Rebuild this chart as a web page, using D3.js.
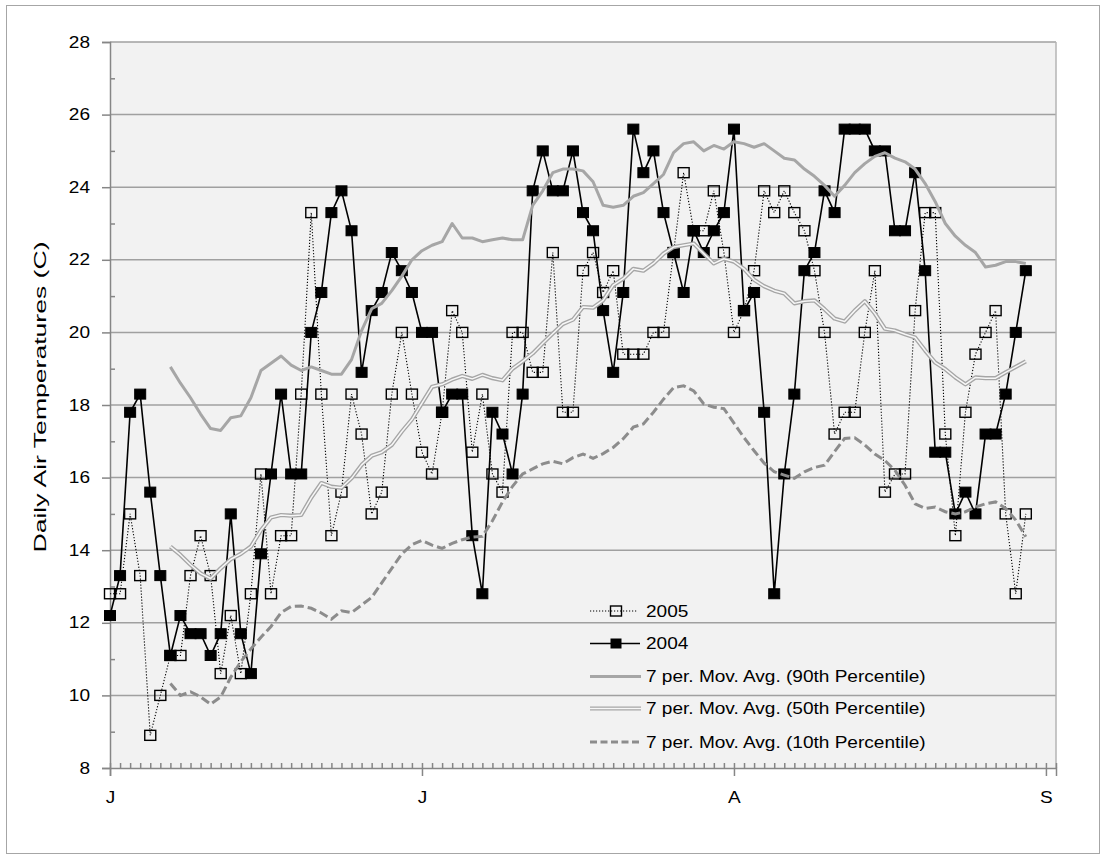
<!DOCTYPE html>
<html>
<head>
<meta charset="utf-8">
<script src="https://cdn.jsdelivr.net/npm/d3@7"></script>
<style>
  html, body { margin: 0; padding: 0; background: #ffffff; }
  svg { display: block; font-family: "Liberation Sans", Arial, Helvetica, sans-serif; }
</style>
</head>
<body>
<svg id="chart" width="1106" height="860"></svg>
<script>
// Day index 0 = 1 June; one value per day.
const temps2005 = [
  12.8, 12.8, 15.0, 13.3, 8.9, 10.0, 11.1, 11.1, 13.3, 14.4,
  13.3, 10.6, 12.2, 10.6, 12.8, 16.1, 12.8, 14.4, 14.4, 18.3,
  23.3, 18.3, 14.4, 15.6, 18.3, 17.2, 15.0, 15.6, 18.3, 20.0,
  18.3, 16.7, 16.1, 17.8, 20.6, 20.0, 16.7, 18.3, 16.1, 15.6,
  20.0, 20.0, 18.9, 18.9, 22.2, 17.8, 17.8, 21.7, 22.2, 21.1,
  21.7, 19.4, 19.4, 19.4, 20.0, 20.0, 22.2, 24.4, 22.8, 22.8,
  23.9, 22.2, 20.0, 20.6, 21.7, 23.9, 23.3, 23.9, 23.3, 22.8,
  21.7, 20.0, 17.2, 17.8, 17.8, 20.0, 21.7, 15.6, 16.1, 16.1,
  20.6, 23.3, 23.3, 17.2, 14.4, 17.8, 19.4, 20.0, 20.6, 15.0,
  12.8, 15.0
];

const temps2004 = [
  12.2, 13.3, 17.8, 18.3, 15.6, 13.3, 11.1, 12.2, 11.7, 11.7,
  11.1, 11.7, 15.0, 11.7, 10.6, 13.9, 16.1, 18.3, 16.1, 16.1,
  20.0, 21.1, 23.3, 23.9, 22.8, 18.9, 20.6, 21.1, 22.2, 21.7,
  21.1, 20.0, 20.0, 17.8, 18.3, 18.3, 14.4, 12.8, 17.8, 17.2,
  16.1, 18.3, 23.9, 25.0, 23.9, 23.9, 25.0, 23.3, 22.8, 20.6,
  18.9, 21.1, 25.6, 24.4, 25.0, 23.3, 22.2, 21.1, 22.8, 22.2,
  22.8, 23.3, 25.6, 20.6, 21.1, 17.8, 12.8, 16.1, 18.3, 21.7,
  22.2, 23.9, 23.3, 25.6, 25.6, 25.6, 25.0, 25.0, 22.8, 22.8,
  24.4, 21.7, 16.7, 16.7, 15.0, 15.6, 15.0, 17.2, 17.2, 18.3,
  20.0, 21.7
];

// 7-period moving averages; the first value belongs to day index 6.
const avgStart = 6;
const movAvg90 = [
  19.05, 18.6, 18.2, 17.75, 17.35, 17.3, 17.65, 17.7, 18.2, 18.95,
  19.15, 19.35, 19.1, 18.95, 19.05, 18.95, 18.85, 18.85, 19.25, 20.05,
  20.65, 20.8, 21.15, 21.55, 22.0, 22.25, 22.4, 22.5, 23.0, 22.6,
  22.6, 22.5, 22.55, 22.6, 22.55, 22.55, 23.5, 23.9, 24.4, 24.5,
  24.5, 24.45, 24.15, 23.5, 23.45, 23.5, 23.75, 23.85, 24.1, 24.35,
  24.95, 25.2, 25.25, 25.0, 25.15, 25.05, 25.25, 25.2, 25.1, 25.2,
  25.0, 24.8, 24.75, 24.5, 24.3, 24.05, 23.75, 24.05, 24.4, 24.65,
  24.85, 24.95, 24.8, 24.7, 24.5, 24.1, 23.6, 23.0, 22.65, 22.4,
  22.2, 21.8, 21.85, 21.95, 21.95, 21.9
];
const movAvg50 = [
  14.1, 13.87, 13.6, 13.36, 13.22, 13.5, 13.75, 13.9, 14.1, 14.55,
  14.9, 14.97, 14.95, 14.97, 15.45, 15.85, 15.75, 15.72, 15.98, 16.35,
  16.6, 16.7, 16.9, 17.27, 17.6, 18.05, 18.5, 18.57, 18.7, 18.8,
  18.72, 18.83, 18.74, 18.68, 19.0, 19.2, 19.42, 19.7, 19.97, 20.23,
  20.35, 20.7, 20.68, 20.88, 21.3, 21.48, 21.75, 21.7, 21.9, 22.17,
  22.35, 22.4, 22.45, 22.17, 21.9, 22.03, 21.95, 21.75, 21.45, 21.27,
  21.15, 21.07, 20.8, 20.86, 20.88, 20.64, 20.38, 20.3, 20.6, 20.86,
  20.52, 20.1, 20.05, 19.95, 19.86, 19.5, 19.17, 18.99, 18.76, 18.57,
  18.76, 18.74, 18.74, 18.9, 19.05, 19.2
];
const movAvg10 = [
  10.33, 10.0, 10.1, 9.96, 9.76, 9.96, 10.5, 10.93, 11.28, 11.6,
  11.9, 12.28, 12.45, 12.46, 12.4, 12.27, 12.1, 12.33, 12.28, 12.49,
  12.7, 13.1, 13.5, 13.9, 14.15, 14.27, 14.14, 14.05, 14.19, 14.29,
  14.36, 14.38, 14.81, 15.33, 15.76, 16.1, 16.24, 16.38, 16.45, 16.38,
  16.55, 16.65, 16.53, 16.66, 16.83, 17.07, 17.39, 17.48, 17.8, 18.16,
  18.48, 18.53, 18.39, 18.03, 17.94, 17.9, 17.5, 17.1, 16.74, 16.4,
  16.16, 16.07, 15.98, 16.16, 16.28, 16.34, 16.72, 17.08, 17.1, 16.9,
  16.65, 16.47, 16.2, 15.79, 15.28, 15.15, 15.19, 15.06, 15.0, 15.06,
  15.19, 15.28, 15.33, 15.15, 14.83, 14.37
];

// Category axis: labels every 31 days (2 Jun, 2 Jul, 2 Aug, 2 Sep).
const monthTickIndex = [0, 31, 62, 93];
const monthTickLabels = ["J", "J", "A", "S"];
const yTickValues = [8, 10, 12, 14, 16, 18, 20, 22, 24, 26, 28];
const yMinorValues = [9, 11, 13, 15, 17, 19, 21, 23, 25, 27];

const legendLabels = [
  "2005",
  "2004",
  "7 per. Mov. Avg. (90th Percentile)",
  "7 per. Mov. Avg. (50th Percentile)",
  "7 per. Mov. Avg. (10th Percentile)"
];

// ---- layout ----
const W = 1106, H = 860;
const plot = { left: 110, right: 1056, top: 42, bottom: 768 };
const SX = 1.19;          // glyphs are drawn a little wide
const FONT = 16;

const svg = d3.select("#chart");

const x = d3.scaleLinear().domain([0, 94]).range([plot.left, plot.right]);
const y = d3.scaleLinear().domain([8, 28]).range([plot.bottom, plot.top]);

// chart frame
svg.append("rect")
  .attr("x", 6.5).attr("y", 5.5).attr("width", W - 13).attr("height", H - 12)
  .attr("fill", "#ffffff").attr("stroke", "#a6a6a6").attr("stroke-width", 1);

// plot background
svg.append("rect")
  .attr("x", plot.left).attr("y", plot.top)
  .attr("width", plot.right - plot.left).attr("height", plot.bottom - plot.top)
  .attr("fill", "#f2f2f2");

// horizontal gridlines
svg.append("g").selectAll("line")
  .data(yTickValues.filter(v => v > 8))
  .join("line")
  .attr("x1", plot.left).attr("x2", plot.right)
  .attr("y1", d => y(d)).attr("y2", d => y(d))
  .attr("stroke", "#a0a0a0").attr("stroke-width", 1.5);

// right edge of plot area
svg.append("line")
  .attr("x1", plot.right).attr("x2", plot.right)
  .attr("y1", plot.top).attr("y2", plot.bottom)
  .attr("stroke", "#b4b4b4").attr("stroke-width", 1.5);

function styleAxis(g) {
  g.selectAll(".domain").attr("stroke", "#868686").attr("stroke-width", 1.5);
  g.selectAll(".tick line").attr("stroke", "#868686").attr("stroke-width", 1.5);
}

// y axis (minor ticks inside, major ticks outside)
svg.append("g")
  .attr("transform", `translate(${plot.left},0)`)
  .call(d3.axisLeft(y).tickValues(yMinorValues).tickSize(-5).tickFormat(""))
  .call(g => g.select(".domain").remove())
  .call(styleAxis);

const yAxisG = svg.append("g")
  .attr("transform", `translate(${plot.left},0)`)
  .call(d3.axisLeft(y).tickValues(yTickValues).tickSizeOuter(0).tickSize(8).tickPadding(10))
  .call(styleAxis);
yAxisG.selectAll(".tick text")
  .attr("font-family", "Liberation Sans, Arial, sans-serif")
  .attr("font-size", FONT)
  .attr("fill", "#000")
  .attr("x", -20 / SX)
  .attr("transform", `scale(${SX},1)`);

// x axis
svg.append("g")
  .attr("transform", `translate(0,${plot.bottom})`)
  .call(d3.axisBottom(x).tickValues(d3.range(0, 95)).tickSize(-5).tickFormat(""))
  .call(g => g.select(".domain").remove())
  .call(styleAxis);

const xAxisG = svg.append("g")
  .attr("transform", `translate(0,${plot.bottom})`)
  .call(d3.axisBottom(x).tickValues(monthTickIndex)
    .tickFormat((d, i) => monthTickLabels[i]).tickSizeOuter(0).tickSize(8).tickPadding(16))
  .call(styleAxis);
xAxisG.selectAll(".tick text")
  .attr("font-family", "Liberation Sans, Arial, sans-serif")
  .attr("font-size", FONT)
  .attr("fill", "#000")
  .attr("transform", `scale(${SX},1)`);

// axis title (drawn long and narrow)
svg.append("text")
  .attr("transform", "translate(46,397) rotate(-90)")
  .attr("text-anchor", "middle")
  .attr("font-size", FONT)
  .attr("fill", "#000")
  .attr("textLength", 311)
  .attr("lengthAdjust", "spacingAndGlyphs")
  .text("Daily Air Temperatures (C)");

// ---- series ----
const MW = 11, MH = 10;   // marker size

const line2005 = d3.line().x((d, i) => x(i)).y(d => y(d));
const line2004 = d3.line().x((d, i) => x(i)).y(d => y(d));
const avgLine = d3.line().x((d, i) => x(i + avgStart)).y(d => y(d));

const g2005 = svg.append("g");
g2005.append("path")
  .attr("d", line2005(temps2005))
  .attr("fill", "none").attr("stroke", "#000").attr("stroke-width", 1.1)
  .attr("stroke-dasharray", "1.2,1.8");
g2005.selectAll("rect")
  .data(temps2005)
  .join("rect")
  .attr("x", (d, i) => x(i) - MW / 2).attr("y", d => y(d) - MH / 2)
  .attr("width", MW).attr("height", MH)
  .attr("fill", "none").attr("stroke", "#000").attr("stroke-width", 1.4);

const g2004 = svg.append("g");
g2004.append("path")
  .attr("d", line2004(temps2004))
  .attr("fill", "none").attr("stroke", "#000").attr("stroke-width", 1.6);
g2004.selectAll("rect")
  .data(temps2004)
  .join("rect")
  .attr("x", (d, i) => x(i) - MW / 2).attr("y", d => y(d) - MH / 2)
  .attr("width", MW).attr("height", MH)
  .attr("fill", "#000").attr("stroke", "#000").attr("stroke-width", 1);

// moving averages
svg.append("path").attr("d", avgLine(movAvg90))
  .attr("fill", "none").attr("stroke", "#a6a6a6").attr("stroke-width", 3)
  .attr("stroke-linejoin", "round");
svg.append("path").attr("d", avgLine(movAvg50))
  .attr("fill", "none").attr("stroke", "#a6a6a6").attr("stroke-width", 4.2)
  .attr("stroke-linejoin", "round");
svg.append("path").attr("d", avgLine(movAvg50))
  .attr("fill", "none").attr("stroke", "#f7f7f7").attr("stroke-width", 1.5)
  .attr("stroke-linejoin", "round");
svg.append("path").attr("d", avgLine(movAvg10))
  .attr("fill", "none").attr("stroke", "#8c8c8c").attr("stroke-width", 3)
  .attr("stroke-dasharray", "9,4");

// ---- legend ----
const legend = svg.append("g");
const legRows = [611, 643.5, 676.5, 708.5, 742];
const lx0 = 590, lx1 = 641, ltext = 646;

legend.append("line").attr("x1", lx0).attr("x2", lx1 - 4).attr("y1", legRows[0]).attr("y2", legRows[0])
  .attr("stroke", "#000").attr("stroke-width", 1.1).attr("stroke-dasharray", "1.2,1.8");
legend.append("rect").attr("x", 616 - MW / 2).attr("y", legRows[0] - MH / 2)
  .attr("width", MW).attr("height", MH).attr("fill", "none").attr("stroke", "#000").attr("stroke-width", 1.4);

legend.append("line").attr("x1", lx0).attr("x2", lx1 - 1).attr("y1", legRows[1]).attr("y2", legRows[1])
  .attr("stroke", "#000").attr("stroke-width", 1.6);
legend.append("rect").attr("x", 616 - MW / 2).attr("y", legRows[1] - MH / 2)
  .attr("width", MW).attr("height", MH).attr("fill", "#000");

legend.append("line").attr("x1", lx0).attr("x2", lx1).attr("y1", legRows[2]).attr("y2", legRows[2])
  .attr("stroke", "#a6a6a6").attr("stroke-width", 3);
legend.append("line").attr("x1", lx0).attr("x2", lx1).attr("y1", legRows[3]).attr("y2", legRows[3])
  .attr("stroke", "#a6a6a6").attr("stroke-width", 4.2);
legend.append("line").attr("x1", lx0).attr("x2", lx1).attr("y1", legRows[3]).attr("y2", legRows[3])
  .attr("stroke", "#f7f7f7").attr("stroke-width", 1.5);
legend.append("line").attr("x1", lx0).attr("x2", lx1).attr("y1", legRows[4]).attr("y2", legRows[4])
  .attr("stroke", "#8c8c8c").attr("stroke-width", 3).attr("stroke-dasharray", "7,3.5");

legend.selectAll("text.leg")
  .data(legendLabels)
  .join("text")
  .attr("class", "leg")
  .attr("transform", (d, i) => `translate(${ltext},${legRows[i]}) scale(${SX},1)`)
  .attr("dy", "0.35em")
  .attr("font-size", FONT)
  .attr("fill", "#000")
  .text(d => d);
</script>
</body>
</html>
